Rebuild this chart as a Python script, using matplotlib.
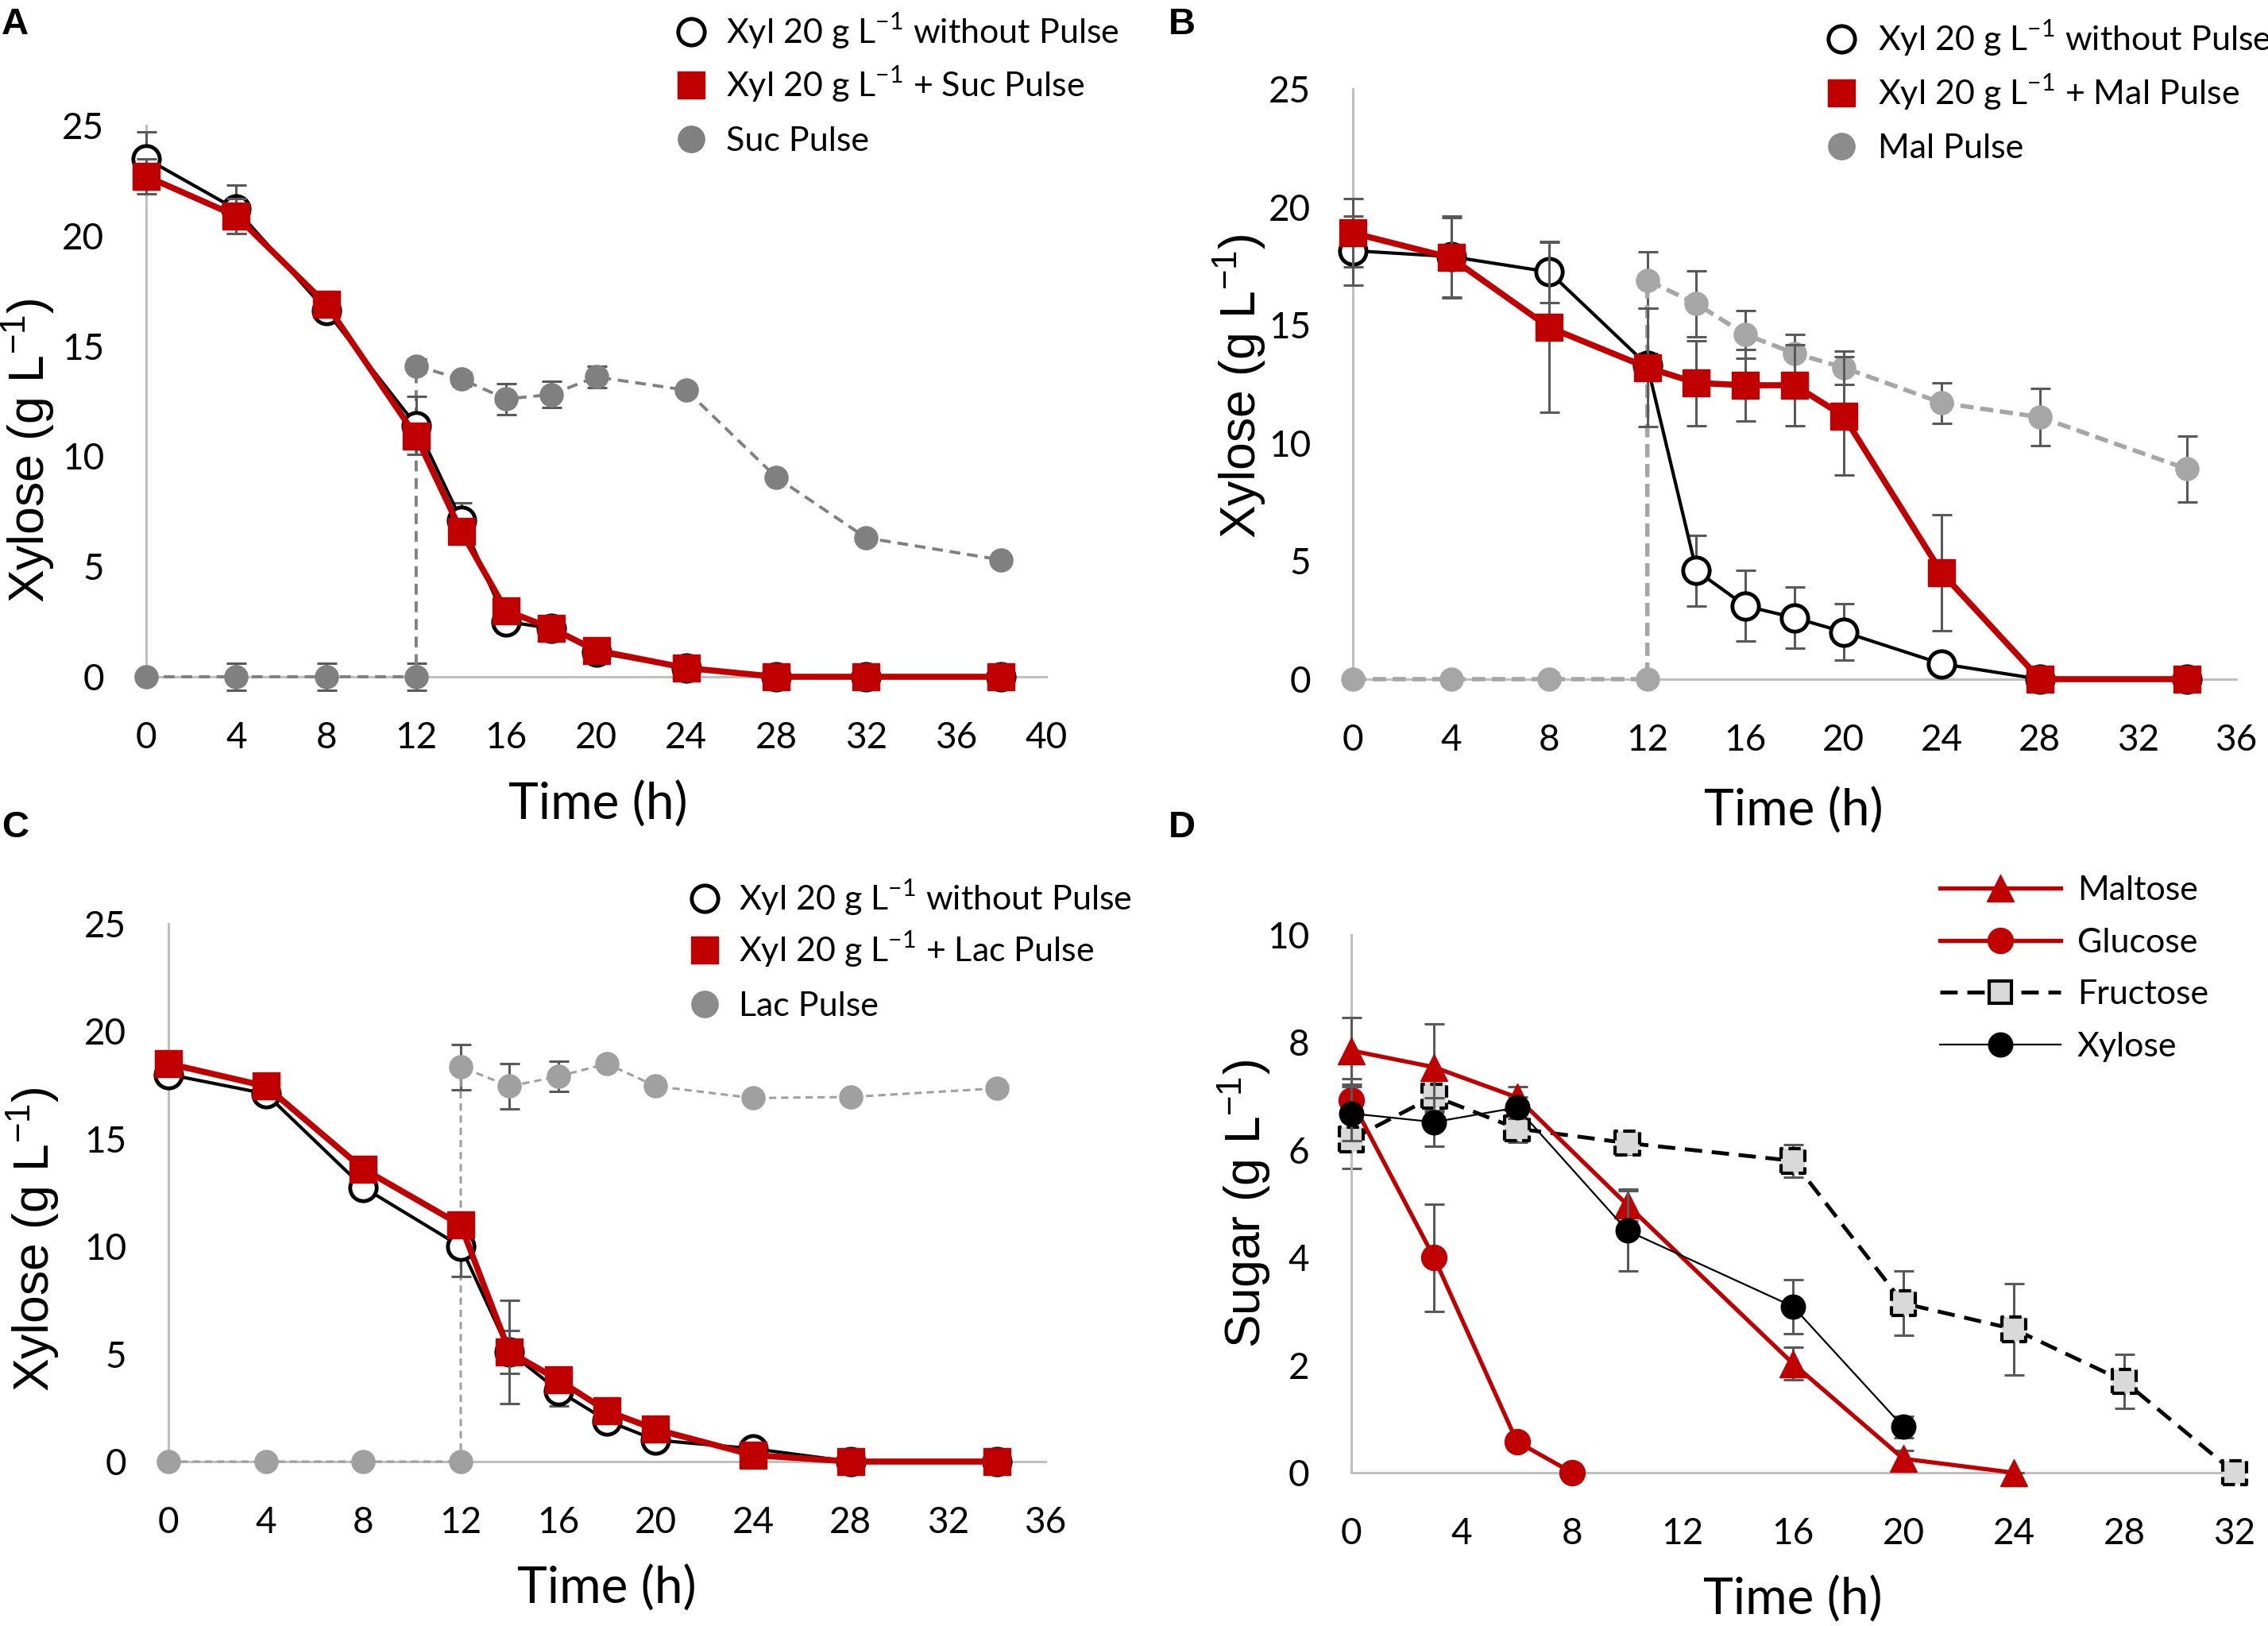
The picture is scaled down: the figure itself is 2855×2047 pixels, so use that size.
import matplotlib
matplotlib.use("Agg")
import matplotlib.pyplot as plt
from matplotlib.lines import Line2D

# ---- data ----
# panel A: xylose + sucrose pulse
t_a = [0, 4, 8, 12, 14, 16, 18, 20, 24, 28, 32, 38]
xyl_a = [23.5, 21.2, 16.6, 11.4, 7.1, 2.5, 2.2, 1.1, 0.4, 0.0, 0.0, 0.0]
xyl_a_err = [1.2, 1.1, 0.2, 1.3, 0.8, 0.3, 0.2, 0.2, 0.1, 0.0, 0.0, 0.0]
suc_a = [22.7, 20.9, 16.9, 10.9, 6.6, 3.0, 2.2, 1.2, 0.4, 0.0, 0.0, 0.0]
suc_a_err = [0.8, 0.8, 0.2, 0.5, 0.3, 0.3, 0.2, 0.2, 0.1, 0.0, 0.0, 0.0]
pulse_a_t = [0, 4, 8, 12, 12, 14, 16, 18, 20, 24, 28, 32, 38]
pulse_a = [0, 0, 0, 0, 14.1, 13.5, 12.6, 12.8, 13.6, 13.0, 9.05, 6.3, 5.3]
pulse_a_err = [0.1, 0.6, 0.6, 0.6, 0.3, 0.3, 0.7, 0.6, 0.5, 0.2, 0.2, 0.2, 0.2]

# panel B: xylose + maltose pulse
t_b = [0, 4, 8, 12, 14, 16, 18, 20, 24, 28, 34]
xyl_b = [18.15, 17.9, 17.25, 13.3, 4.6, 3.1, 2.6, 2.0, 0.65, 0.0, 0.0]
xyl_b_err = [1.45, 1.7, 1.3, 0.5, 1.5, 1.5, 1.3, 1.2, 0.1, 0.0, 0.0]
mal_b = [18.9, 17.85, 14.9, 13.2, 12.55, 12.45, 12.45, 11.15, 4.5, 0.0, 0.0]
mal_b_err = [1.45, 1.7, 3.6, 2.5, 1.8, 1.5, 1.7, 2.5, 2.45, 0.0, 0.0]
pulse_b_t = [0, 4, 8, 12, 12, 14, 16, 18, 20, 24, 28, 34]
pulse_b = [0, 0, 0, 0, 16.9, 15.9, 14.6, 13.8, 13.2, 11.7, 11.1, 8.9]
pulse_b_err = [0.1, 0.1, 0.1, 0.1, 1.2, 1.4, 1.0, 0.8, 0.7, 0.85, 1.2, 1.4]

# panel C: xylose + lactose pulse
t_c = [0, 4, 8, 12, 14, 16, 18, 20, 24, 28, 34]
xyl_c = [18.0, 17.1, 12.75, 10.0, 5.1, 3.3, 1.9, 1.0, 0.6, 0.0, 0.0]
xyl_c_err = [0.2, 0.3, 0.2, 1.4, 1.0, 0.7, 0.2, 0.2, 0.1, 0.0, 0.0]
lac_c = [18.5, 17.45, 13.6, 11.0, 5.1, 3.8, 2.35, 1.5, 0.3, 0.0, 0.0]
lac_c_err = [0.3, 0.4, 0.3, 0.5, 2.4, 0.4, 0.3, 0.3, 0.1, 0.0, 0.0]
pulse_c_t = [0, 4, 8, 12, 12, 14, 16, 18, 20, 24, 28, 34]
pulse_c = [0, 0, 0, 0, 18.35, 17.45, 17.9, 18.5, 17.45, 16.9, 16.95, 17.35]
pulse_c_err = [0.05, 0.05, 0.05, 0.05, 1.05, 1.05, 0.7, 0.2, 0.2, 0.2, 0.2, 0.2]

# panel D: sugar mix
malt_t = [0, 3, 6, 10, 16, 20, 24]
malt = [7.85, 7.54, 6.98, 4.98, 2.03, 0.26, 0.0]
malt_err = [0.62, 0.8, 0.2, 0.3, 0.3, 0.15, 0.0]
gluc_t = [0, 3, 6, 8]
gluc = [6.93, 4.0, 0.58, 0.0]
gluc_err = [0.4, 1.0, 0.1, 0.0]
fruc_t = [0, 3, 6, 10, 16, 20, 24, 28, 32]
fruc = [6.2, 7.0, 6.4, 6.13, 5.8, 3.15, 2.67, 1.7, 0.0]
fruc_err = [0.55, 0.3, 0.25, 0.2, 0.3, 0.6, 0.85, 0.5, 0.05]
xylo_t = [0, 3, 6, 10, 16, 20]
xylo = [6.68, 6.52, 6.79, 4.5, 3.09, 0.85]
xylo_err = [0.5, 0.45, 0.2, 0.75, 0.5, 0.2]

RED = "#C00000"
ERR = "#595959"
AXC = "#BFBFBF"
FRU = "#D9D9D9"
TICKFONT = "Lato"
LABFONT = "Liberation Sans"
sup = "$^{\\mathregular{-1}}$"
FRU_DASH = (0, (4.5, 2.5))

W, H = 2855, 2047
fig = plt.figure(figsize=(W / 100, H / 100), dpi=100)


def rect(x0, ytop, x1, ybot):
    return [x0 / W, 1 - ybot / H, (x1 - x0) / W, (ybot - ytop) / H]


def errs(ax, x, y, e, z):
    ax.errorbar(x, y, yerr=e, fmt="none", ecolor=ERR, elinewidth=2.2,
                capsize=9, capthick=2.2, zorder=z, clip_on=False)


def setup(ax, xmax, xstep, ymax, ystep, ylab, ylab_pos, xlab_pos):
    ax.set_xlim(0, xmax)
    ax.set_ylim(0, ymax)
    ax.set_xticks(range(0, xmax + 1, xstep))
    ax.set_yticks(range(0, ymax + 1, ystep))
    for s in ["top", "right"]:
        ax.spines[s].set_visible(False)
    for s in ["left", "bottom"]:
        ax.spines[s].set_color(AXC)
        ax.spines[s].set_linewidth(2.2)
    ax.tick_params(length=0, labelsize=33)
    ax.tick_params(axis="x", pad=40)
    ax.tick_params(axis="y", pad=38)
    for lab in ax.get_xticklabels() + ax.get_yticklabels():
        lab.set_family(TICKFONT)
    ax.set_ylabel(ylab, fontsize=45, family=LABFONT)
    ax.yaxis.set_label_coords(*ylab_pos)
    ax.set_xlabel("Time (h)", fontsize=46, family=TICKFONT)
    ax.xaxis.set_label_coords(*xlab_pos)
    ax.set_facecolor("none")


def three_series(ax, t, base, base_e, pul, pul_e, pt, pv, pv_e, gray, dash_lw, dash):
    errs(ax, pt, pv, pv_e, 2)
    ax.plot(pt, pv, color=gray, lw=dash_lw, ls=dash, marker="o", ms=21,
            mfc=gray, mec=gray, zorder=3, clip_on=False)
    errs(ax, t, base, base_e, 4)
    ax.plot(t, base, color="black", lw=3, marker="o", ms=24, mfc="white",
            mec="black", mew=3.5, zorder=5, clip_on=False)
    errs(ax, t, pul, pul_e, 6)
    ax.plot(t, pul, color=RED, lw=5.5, marker="s", ms=24, mfc=RED,
            mec=RED, zorder=7, clip_on=False)


def fx(px):
    return px / W


def fy(py):
    return 1 - py / H


def legend_rows(handles, labels, mx, tx, rows, half=None):
    # legend drawn by hand at figure pixel positions
    for h, lab, ry in zip(handles, labels, rows):
        mk = {k: v for k, v in h.items() if k not in ("color", "lw", "ls")}
        if half:
            fig.add_artist(Line2D([fx(mx - half), fx(mx + half)], [fy(ry), fy(ry)],
                                  color=h["color"], lw=h["lw"], ls=h.get("ls", "-"),
                                  transform=fig.transFigure))
        fig.add_artist(Line2D([fx(mx)], [fy(ry)], ls="none",
                              transform=fig.transFigure, **mk))
        fig.text(fx(tx), fy(ry + 15), lab, fontsize=31, family=TICKFONT,
                 ha="left", va="baseline")


def marker_legend(labels, gray, mx, tx, rows):
    hs = [dict(marker="o", ms=24, mfc="white", mec="black", mew=3.5),
          dict(marker="s", ms=24, mfc=RED, mec=RED),
          dict(marker="o", ms=24, mfc=gray, mec=gray)]
    legend_rows(hs, labels, mx, tx, rows)


# ---- A ----
axA = fig.add_axes(rect(184, 158, 1317, 852))
three_series(axA, t_a, xyl_a, xyl_a_err, suc_a, suc_a_err,
             pulse_a_t, pulse_a, pulse_a_err, "#808080", 2.8, (0, (3.5, 2.2)))
setup(axA, 40, 4, 25, 5, "Xylose (g L" + sup + ")", (-0.099, 0.41), (0.502, -0.189))
marker_legend(["Xyl 20 g L" + sup + " without Pulse",
               "Xyl 20 g L" + sup + " + Suc Pulse", "Suc Pulse"],
              "#808080", 870, 914, [40, 107, 175])

# ---- B ----
axB = fig.add_axes(rect(1703, 112, 2815, 855))
three_series(axB, t_b, xyl_b, xyl_b_err, mal_b, mal_b_err,
             pulse_b_t, pulse_b, pulse_b_err, "#A6A6A6", 4, (0, (3, 1.5)))
setup(axB, 36, 4, 25, 5, "Xylose (g L" + sup + ")", (-0.095, 0.497), (0.499, -0.184))
marker_legend(["Xyl 20 g L" + sup + " without Pulse",
               "Xyl 20 g L" + sup + " + Mal Pulse", "Mal Pulse"],
              "#8C8C8C", 2318, 2364, [49, 117, 184])

# ---- C ----
axC = fig.add_axes(rect(212, 1163, 1316, 1840))
three_series(axC, t_c, xyl_c, xyl_c_err, lac_c, lac_c_err,
             pulse_c_t, pulse_c, pulse_c_err, "#A0A0A0", 2.2, (0, (3, 2)))
setup(axC, 36, 4, 25, 5, "Xylose (g L" + sup + ")", (-0.121, 0.414), (0.50, -0.192))
marker_legend(["Xyl 20 g L" + sup + " without Pulse",
               "Xyl 20 g L" + sup + " + Lac Pulse", "Lac Pulse"],
              "#8C8C8C", 887, 930, [1131, 1196, 1264])

# ---- D ----
axD = fig.add_axes(rect(1701, 1177, 2813, 1854))
errs(axD, fruc_t, fruc, fruc_err, 2)
axD.plot(fruc_t, fruc, color="black", lw=3.5, ls=FRU_DASH, zorder=3, clip_on=False)
axD.scatter(fruc_t, fruc, s=22 ** 2, marker="s", c=FRU, edgecolors="black",
            linewidths=3, linestyles="--", zorder=3.5, clip_on=False)
errs(axD, malt_t, malt, malt_err, 4)
axD.plot(malt_t, malt, color=RED, lw=3.8, marker="^", ms=24, mfc=RED, mec=RED,
         zorder=5, clip_on=False)
errs(axD, gluc_t, gluc, gluc_err, 6)
axD.plot(gluc_t, gluc, color=RED, lw=3.8, marker="o", ms=23, mfc=RED, mec=RED,
         zorder=7, clip_on=False)
errs(axD, xylo_t, xylo, xylo_err, 8)
axD.plot(xylo_t, xylo, color="black", lw=1.6, marker="o", ms=22, mfc="black",
         mec="black", zorder=9, clip_on=False)
setup(axD, 32, 4, 10, 2, "Sugar (g L" + sup + ")", (-0.088, 0.50), (0.50, -0.193))
hD = [dict(color=RED, lw=3.8, marker="^", ms=24, mfc=RED, mec=RED),
      dict(color=RED, lw=3.8, marker="o", ms=23, mfc=RED, mec=RED),
      dict(color="black", lw=3.5, ls=FRU_DASH, marker="s", ms=20,
           mfc=FRU, mec="black", mew=3),
      dict(color="black", lw=1.6, marker="o", ms=22, mfc="black", mec="black")]
legend_rows(hD, ["Maltose", "Glucose", "Fructose", "Xylose"], 2518, 2615,
            [1118, 1184, 1249, 1315], half=76)

# panel letters
for letter, (px, py) in zip("ABCD", [(2, 31), (1471, 31), (2, 1042), (1471, 1042)]):
    fig.text(fx(px), fy(py), letter, fontsize=34, fontweight="bold",
             family=LABFONT, ha="left", va="center")

fig.savefig("out.png", dpi=100)
